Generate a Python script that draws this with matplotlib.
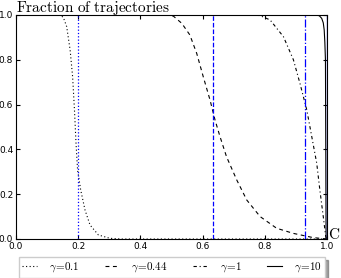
import matplotlib
matplotlib.use("Agg")
import matplotlib.pyplot as plt

# values
x_g01 = [0.0, 0.14, 0.152, 0.163, 0.174, 0.182, 0.188, 0.193, 0.198, 0.208, 0.222,
         0.238, 0.265, 0.302, 0.34, 1.0]
y_g01 = [1.0, 1.0, 0.99, 0.948, 0.844, 0.725, 0.576, 0.427, 0.308, 0.219, 0.129,
         0.0625, 0.018, 0.003, 0.0, 0.0]

x_g044 = [0.0, 0.49, 0.506, 0.533, 0.559, 0.581, 0.602, 0.624, 0.640, 0.656, 0.677,
          0.710, 0.742, 0.785, 0.838, 0.892, 0.956, 1.0]
y_g044 = [1.0, 1.0, 0.995, 0.963, 0.911, 0.829, 0.725, 0.62, 0.531, 0.457, 0.367,
          0.263, 0.174, 0.10, 0.048, 0.025, 0.006, 0.0]

x_g1 = [0.0, 0.77, 0.785, 0.817, 0.86, 0.892, 0.913, 0.935, 0.951, 0.967, 0.977,
        0.988, 0.996, 1.0]
y_g1 = [1.0, 1.0, 0.997, 0.978, 0.903, 0.80, 0.695, 0.576, 0.457, 0.338, 0.219,
        0.10, 0.01, 0.0]

x_g10 = [0.0, 0.96, 0.975, 0.983, 0.988, 0.991, 0.993, 0.995, 0.996, 0.997, 1.0]
y_g10 = [1.0, 1.0, 0.997, 0.985, 0.965, 0.933, 0.88, 0.8, 0.43, 0.0, 0.0]

gammas = ["0.1", "0.44", "1", "10"]
thresholds = [0.2, 0.635, 0.93, 0.999]

curve_dashes = [(1, 2.2), (3.5, 3.2), (3, 2.5, 1, 2.5), None]
vline_styles = [":", "--", "-.", "-"]

plt.rcParams["mathtext.fontset"] = "cm"
plt.rcParams["font.size"] = 6.5

fig = plt.figure(figsize=(3.41, 2.78), dpi=100)
ax = fig.add_axes([16 / 341, 1 - 239 / 278, 311 / 341, 224 / 278])

curves = [(x_g01, y_g01), (x_g044, y_g044), (x_g1, y_g1), (x_g10, y_g10)]
for (xs, ys), g, d, vs, t in zip(curves, gammas, curve_dashes, vline_styles, thresholds):
    line, = ax.plot(xs, ys, color="black", linewidth=0.8,
                    label=r"$\gamma\!=\!%s$" % g)
    if d is not None:
        line.set_dashes(d)
    ax.axvline(t, color="blue", linestyle=vs, linewidth=0.9)

ax.set_xlim(0, 1)
ax.set_ylim(0, 1)
ax.set_xticks([0.0, 0.2, 0.4, 0.6, 0.8, 1.0])
ax.set_yticks([0.0, 0.2, 0.4, 0.6, 0.8, 1.0])
ax.tick_params(direction="in", top=True, right=True, length=3, pad=2)

ax.text(0.0, 1.012, r"$\mathrm{Fraction\ of\ trajectories}$", transform=ax.transAxes,
        fontsize=11, va="baseline", ha="left")
ax.text(1.003, 0.0, r"$\mathrm{C}$", transform=ax.transAxes,
        fontsize=11, va="baseline", ha="left")

fig.legend(loc="upper center", ncol=4,
           bbox_to_anchor=(172 / 341, 1 - 257 / 278),
           fancybox=False, shadow=True, fontsize=8, handlelength=1.3,
           handletextpad=1.1, columnspacing=2.3, borderaxespad=0, borderpad=0.3)

fig.savefig("out.png", dpi=100)
